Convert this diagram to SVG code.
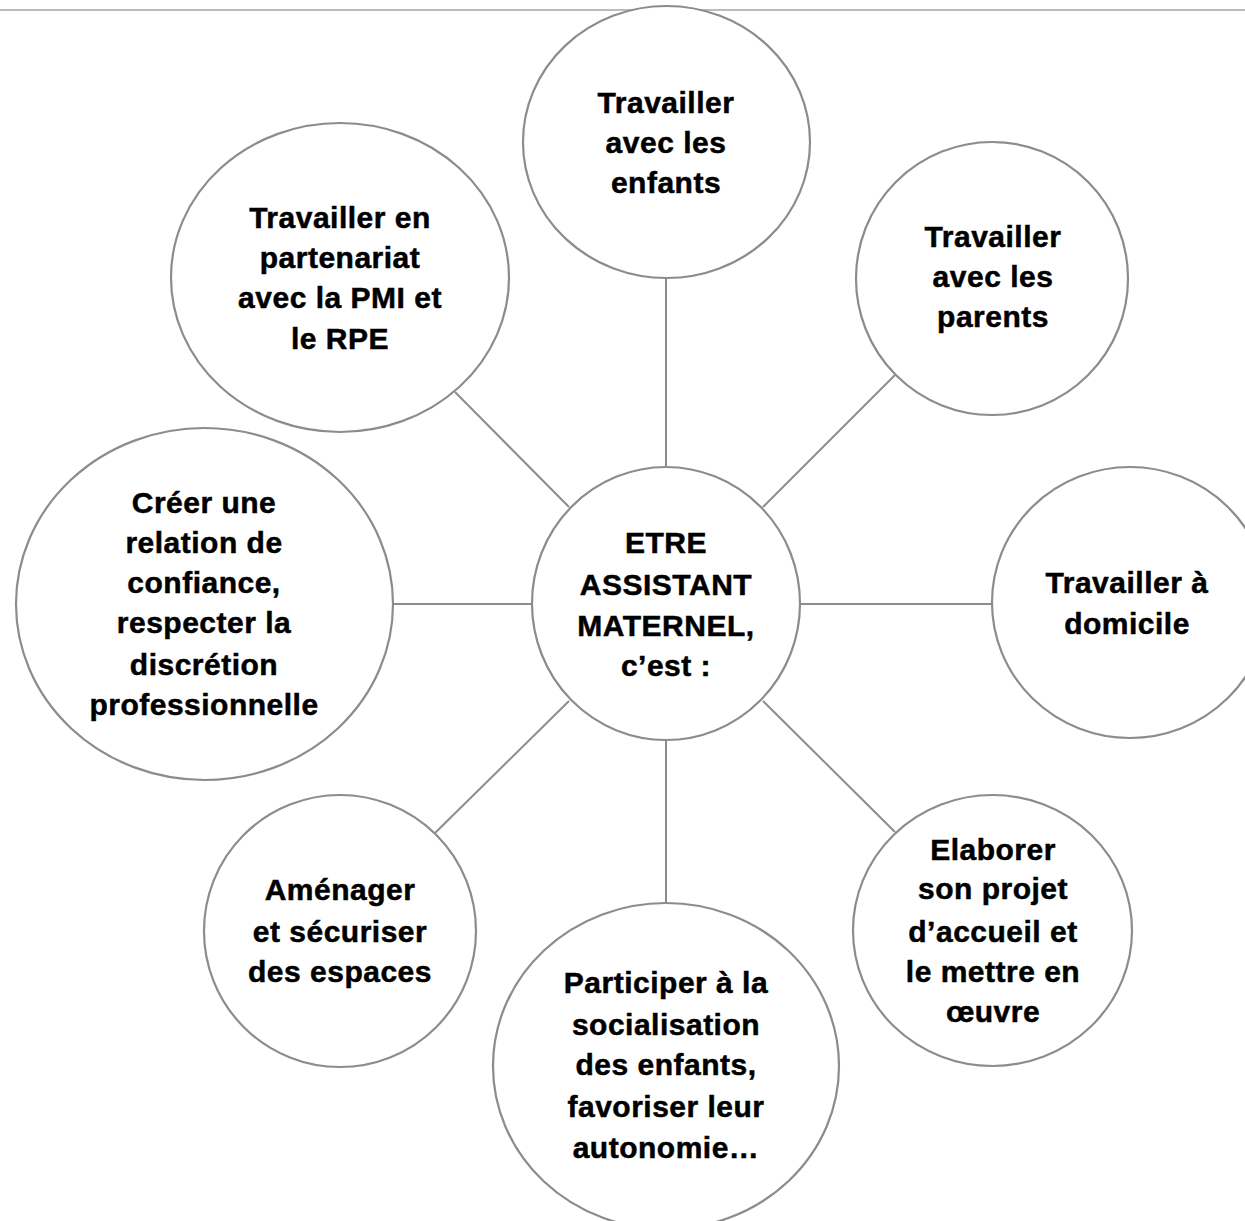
<svg xmlns="http://www.w3.org/2000/svg" width="1245" height="1221" viewBox="0 0 1245 1221">
<style>
  .bg { fill: #ffffff; }
  .rule { stroke: #a6a6a6; stroke-width: 1.5; fill: none; }
  .conn line { stroke: #8c8c8c; stroke-width: 2; fill: none; }
  .node ellipse { fill: #ffffff; stroke: #8c8c8c; stroke-width: 2.2; }
  .node text { font-family: "Liberation Sans", Arial, sans-serif; font-weight: bold; font-size: 30px; letter-spacing: 0.5px; fill: #000000; stroke: #000000; stroke-width: 0.5px; text-anchor: middle; }
</style>
<rect class="bg" x="0" y="0" width="1245" height="1221"/>
<line class="rule" x1="0" y1="10" x2="1245" y2="10"/>

<g id="connectors" class="conn">
  <line x1="666" y1="278" x2="666" y2="467"/>
  <line x1="895" y1="375" x2="763" y2="507"/>
  <line x1="800" y1="604" x2="992" y2="604"/>
  <line x1="763" y1="701" x2="895" y2="832"/>
  <line x1="666" y1="740" x2="666" y2="903"/>
  <line x1="569" y1="701" x2="435" y2="833"/>
  <line x1="532" y1="604" x2="393" y2="604"/>
  <line x1="569" y1="507" x2="455" y2="392"/>
</g>

<g id="node-enfants" class="node">
  <ellipse cx="666.5" cy="142" rx="143.5" ry="136"/>
  <text x="666" y="113">Travailler</text>
  <text x="666" y="153">avec les</text>
  <text x="666" y="193">enfants</text>
</g>

<g id="node-parents" class="node">
  <ellipse cx="992" cy="278.5" rx="136" ry="136.5"/>
  <text x="993" y="247">Travailler</text>
  <text x="993" y="287">avec les</text>
  <text x="993" y="327">parents</text>
</g>

<g id="node-partenariat" class="node">
  <ellipse cx="340" cy="277.5" rx="169" ry="154.5"/>
  <text x="340" y="228">Travailler en</text>
  <text x="340" y="268">partenariat</text>
  <text x="340" y="308">avec la PMI et</text>
  <text x="340" y="349">le RPE</text>
</g>

<g id="node-confiance" class="node">
  <ellipse cx="204.5" cy="604" rx="188.5" ry="176"/>
  <text x="204" y="513">Créer une</text>
  <text x="204" y="553">relation de</text>
  <text x="204" y="593">confiance,</text>
  <text x="204" y="633">respecter la</text>
  <text x="204" y="675">discrétion</text>
  <text x="204" y="715">professionnelle</text>
</g>

<g id="node-center" class="node">
  <ellipse cx="666" cy="603.5" rx="134" ry="136.5"/>
  <text x="666" y="553">ETRE</text>
  <text x="666" y="595">ASSISTANT</text>
  <text x="666" y="636">MATERNEL,</text>
  <text x="666" y="676">c’est :</text>
</g>

<g id="node-domicile" class="node">
  <ellipse cx="1130" cy="602.5" rx="138" ry="135.5"/>
  <text x="1127" y="593">Travailler à</text>
  <text x="1127" y="634">domicile</text>
</g>

<g id="node-amenager" class="node">
  <ellipse cx="340" cy="931" rx="136" ry="136"/>
  <text x="340" y="900">Aménager</text>
  <text x="340" y="942">et sécuriser</text>
  <text x="340" y="982">des espaces</text>
</g>

<g id="node-socialisation" class="node">
  <ellipse cx="666" cy="1066" rx="173" ry="163"/>
  <text x="666" y="993">Participer à la</text>
  <text x="666" y="1035">socialisation</text>
  <text x="666" y="1075">des enfants,</text>
  <text x="666" y="1117">favoriser leur</text>
  <text x="666" y="1158">autonomie…</text>
</g>

<g id="node-projet" class="node">
  <ellipse cx="992.5" cy="930.5" rx="139.5" ry="135.5"/>
  <text x="993" y="860">Elaborer</text>
  <text x="993" y="899">son projet</text>
  <text x="993" y="942">d’accueil et</text>
  <text x="993" y="982">le mettre en</text>
  <text x="993" y="1022">œuvre</text>
</g>
</svg>
